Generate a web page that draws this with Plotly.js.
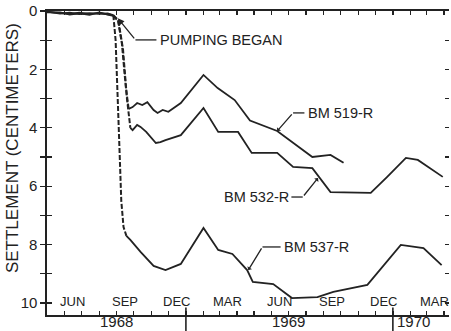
<!DOCTYPE html>
<html>
<head>
<meta charset="utf-8">
<script src="https://cdn.plot.ly/plotly-3.0.1.min.js"></script>
<style>
html,body{margin:0;padding:0;background:#fff;}
#chart{width:451px;height:331px;}
</style>
</head>
<body>
<div id="chart"></div>
<script>
// ---- Data ----
// Before pumping: all three bench marks near zero
const preDates = ['1968-05-01','1968-05-24','1968-06-10','1968-06-27','1968-07-15','1968-08-01','1968-08-16','1968-08-26'];
const pre519 = [0.03,0.07,0.10,0.06,0.10,0.07,0.10,0.14];
const pre532 = [0.05,0.05,0.12,0.08,0.13,0.05,0.12,0.17];
const pre537 = [0.02,0.09,0.06,0.11,0.07,0.10,0.08,0.14];

// Dashed drops after pumping began
const drop519Dates = ['1968-08-26','1968-09-03','1968-09-10','1968-09-17','1968-09-22'];
const drop519 = [0.14,0.30,1.1,2.6,3.35];
const drop532Dates = ['1968-08-26','1968-09-04','1968-09-12','1968-09-19','1968-09-25'];
const drop532 = [0.17,0.35,1.3,3.0,4.0];
const drop537Dates = ['1968-08-26','1968-08-30','1968-09-04','1968-09-09','1968-09-13','1968-09-18'];
const drop537 = [0.14,1.0,3.7,6.5,7.4,7.7];

// Solid records after the drop
const bm519Dates = ['1968-09-22','1968-09-29','1968-10-07','1968-10-16','1968-10-25','1968-11-05','1968-11-12','1968-11-21','1968-12-01','1968-12-23','1969-02-01','1969-02-26','1969-03-28','1969-04-24','1969-06-11','1969-07-09','1969-08-12','1969-09-13','1969-10-06'];
const bm519 = [3.35,3.29,3.15,3.22,3.12,3.39,3.49,3.39,3.45,3.15,2.19,2.64,3.05,3.75,4.11,4.52,5.00,4.93,5.20];
const bm532Dates = ['1968-09-25','1968-09-29','1968-10-07','1968-10-13','1968-10-23','1968-11-01','1968-11-09','1968-11-17','1968-11-26','1968-12-23','1969-02-01','1969-02-27','1969-04-03','1969-04-27','1969-06-11','1969-07-09','1969-08-12','1969-09-13','1969-11-23','1969-12-22','1970-01-24','1970-02-14','1970-03-30'];
const bm532 = [4.00,4.08,3.90,3.97,4.14,4.35,4.52,4.49,4.42,4.25,3.32,4.14,4.14,4.86,4.86,5.34,5.38,6.20,6.23,5.68,5.03,5.10,5.68];
const bm537Dates = ['1968-09-18','1968-09-25','1968-10-13','1968-11-05','1968-11-26','1968-12-23','1969-02-01','1969-02-27','1969-03-24','1969-04-19','1969-04-29','1969-06-04','1969-07-07','1969-08-21','1969-09-18','1969-11-17','1970-01-15','1970-02-24','1970-03-28'];
const bm537 = [7.70,7.84,8.25,8.73,8.87,8.66,7.43,8.18,8.32,8.87,9.28,9.35,9.83,9.80,9.62,9.38,8.01,8.12,8.70];

// Axis labels
const monthLabelDates = ['1968-06-15','1968-09-15','1968-12-15','1969-03-15','1969-06-15','1969-09-15','1969-12-15','1970-03-15'];
const monthLabels = ['JUN','SEP','DEC','MAR','JUN','SEP','DEC','MAR'];
const yearLabelDates = ['1968-09-01','1969-07-01','1970-02-07'];
const yearLabels = ['1968','1969','1970'];
const yearBoundaries = ['1969-01-01','1970-01-01'];
const yTickVals = [0,1,2,3,4,5,6,7,8,9,10];
const yTickText = ['0','','2','','4','','6','','8','','10'];

// ---- Build chart ----
const INK = '#222';
const LW = 1.8;
const FONT = 'Liberation Sans, Arial, Helvetica, sans-serif';
const X_RANGE = ['1968-05-01','1970-04-10'];
const Y_RANGE = [10.41, 0];

const monthStarts = [];
for (let y = 1968, m = 5; y < 1970 || (y === 1970 && m <= 4); ) {
  monthStarts.push(y + '-' + String(m).padStart(2,'0') + '-01');
  m++; if (m > 12) { m = 1; y++; }
}

function line(x, y, dash, w) {
  return {x: x, y: y, type: 'scatter', mode: 'lines', hoverinfo: 'skip',
          line: {color: INK, width: w || LW, dash: dash || 'solid', shape: 'linear'}, showlegend: false};
}

const traces = [
  line(preDates, pre519), line(preDates, pre532), line(preDates, pre537),
  line(drop519Dates, drop519, '5px,2px', 2), line(drop532Dates, drop532, '5px,2px', 2), line(drop537Dates, drop537, '5px,2px', 2),
  line(bm519Dates, bm519), line(bm532Dates, bm532), line(bm537Dates, bm537),
  // empty traces so the overlay tick axes are drawn
  {x: [], y: [], type: 'scatter', mode: 'lines', xaxis: 'x', yaxis: 'y2', hoverinfo: 'skip', showlegend: false},
  {x: [], y: [], type: 'scatter', mode: 'lines', xaxis: 'x', yaxis: 'y3', hoverinfo: 'skip', showlegend: false}
];

const shapes = [];
function seg(x0, y0, x1, y1) {
  shapes.push({type: 'line', xref: 'x', yref: 'y', x0: x0, y0: y0, x1: x1, y1: y1,
               line: {color: INK, width: 1.3}});
}
yearBoundaries.forEach(d => shapes.push({type: 'line', xref: 'x', yref: 'paper', x0: d, x1: d,
  y0: -0.06, y1: 0.025, line: {color: INK, width: 1.6}}));
// leaders (horizontal parts)
seg('1968-10-04', 0.99, '1968-11-10', 0.99);
seg('1969-07-09', 3.49, '1969-07-29', 3.49);
seg('1969-07-06', 6.37, '1969-07-26', 6.37);
seg('1969-05-16', 8.08, '1969-06-17', 8.08);

const annotations = [
  // arrows (diagonal parts)
  {x: '1968-09-03', y: 0.25, ax: '1968-10-04', ay: 0.99, axref: 'x', ayref: 'y', xref: 'x', yref: 'y',
   text: '', showarrow: true, arrowhead: 2, arrowsize: 1, arrowwidth: 1.3, arrowcolor: INK},
  {x: '1969-06-11', y: 4.11, ax: '1969-07-09', ay: 3.49, axref: 'x', ayref: 'y', xref: 'x', yref: 'y',
   text: '', showarrow: true, arrowhead: 1, arrowsize: 0.7, arrowwidth: 1.3, arrowcolor: INK},
  {x: '1969-08-22', y: 5.72, ax: '1969-07-26', ay: 6.37, axref: 'x', ayref: 'y', xref: 'x', yref: 'y',
   text: '', showarrow: true, arrowhead: 1, arrowsize: 0.7, arrowwidth: 1.3, arrowcolor: INK},
  {x: '1969-04-21', y: 8.87, ax: '1969-05-16', ay: 8.08, axref: 'x', ayref: 'y', xref: 'x', yref: 'y',
   text: '', showarrow: true, arrowhead: 1, arrowsize: 0.7, arrowwidth: 1.3, arrowcolor: INK},
  // texts
  {x: '1968-11-13', y: 0.99, xref: 'x', yref: 'y', xanchor: 'left', yanchor: 'middle', showarrow: false,
   text: 'PUMPING BEGAN', font: {family: FONT, size: 14.5, color: INK}},
  {x: '1969-07-31', y: 3.49, xref: 'x', yref: 'y', xanchor: 'left', yanchor: 'middle', showarrow: false,
   text: 'BM 519-R', font: {family: FONT, size: 14.5, color: INK}},
  {x: '1969-07-05', y: 6.37, xref: 'x', yref: 'y', xanchor: 'right', yanchor: 'middle', showarrow: false,
   text: 'BM 532-R', font: {family: FONT, size: 14.5, color: INK}},
  {x: '1969-06-20', y: 8.08, xref: 'x', yref: 'y', xanchor: 'left', yanchor: 'middle', showarrow: false,
   text: 'BM 537-R', font: {family: FONT, size: 14.5, color: INK}},
  // y axis title
  {x: 0, y: 0.549, xref: 'paper', yref: 'paper', xshift: -35, xanchor: 'center', yanchor: 'middle',
   showarrow: false, textangle: -90, text: 'SETTLEMENT (CENTIMETERS)',
   font: {family: FONT, size: 17, color: INK}}
];
monthLabelDates.forEach((d, i) => annotations.push({
  x: d, y: 0.043, xref: 'x', yref: 'paper', xanchor: 'center', yanchor: 'middle', showarrow: false,
  text: monthLabels[i], font: {family: FONT, size: 13, color: INK}
}));
yearLabelDates.forEach((d, i) => annotations.push({
  x: d, y: -0.052, xref: 'x', yref: 'paper', xanchor: 'center', yanchor: 'bottom', showarrow: false,
  borderpad: 0, text: yearLabels[i], font: {family: FONT, size: 15, color: INK}
}));

const layout = {
  width: 451, height: 331,
  margin: {l: 47, r: 2, t: 11, b: 16, pad: 0},
  paper_bgcolor: '#fff', plot_bgcolor: '#fff',
  showlegend: false,
  font: {family: FONT, color: INK},
  xaxis: {
    type: 'date', range: X_RANGE, showgrid: false, zeroline: false, fixedrange: true,
    side: 'bottom', anchor: 'y', showline: true, linecolor: INK, linewidth: 1.6, mirror: 'ticks',
    tickmode: 'array', tickvals: monthStarts, ticks: 'inside', ticklen: 4, tickwidth: 1.3,
    tickcolor: INK, showticklabels: false
  },
  yaxis: {
    range: Y_RANGE, showgrid: false, zeroline: false, fixedrange: true, anchor: 'x',
    showline: true, linecolor: INK, linewidth: 1.6,
    tickmode: 'array', tickvals: yTickVals, ticktext: yTickText,
    ticks: 'outside', ticklen: 5, tickwidth: 1.3, tickcolor: INK,
    tickfont: {family: FONT, size: 15, color: INK}
  },
  yaxis2: {
    overlaying: 'y', side: 'left', anchor: 'x', range: Y_RANGE, showgrid: false, zeroline: false,
    showline: false, tickmode: 'array', tickvals: yTickVals, ticks: 'inside', ticklen: 5,
    tickwidth: 1.3, tickcolor: INK, showticklabels: false, fixedrange: true
  },
  yaxis3: {
    overlaying: 'y', side: 'right', anchor: 'x', range: Y_RANGE, showgrid: false, zeroline: false,
    showline: false, tickmode: 'array', tickvals: yTickVals, ticks: 'inside', ticklen: 4,
    tickwidth: 1.3, tickcolor: INK, showticklabels: false, fixedrange: true
  },
  shapes: shapes,
  annotations: annotations
};

Plotly.newPlot('chart', traces, layout, {staticPlot: true, displayModeBar: false});
</script>
</body>
</html>
